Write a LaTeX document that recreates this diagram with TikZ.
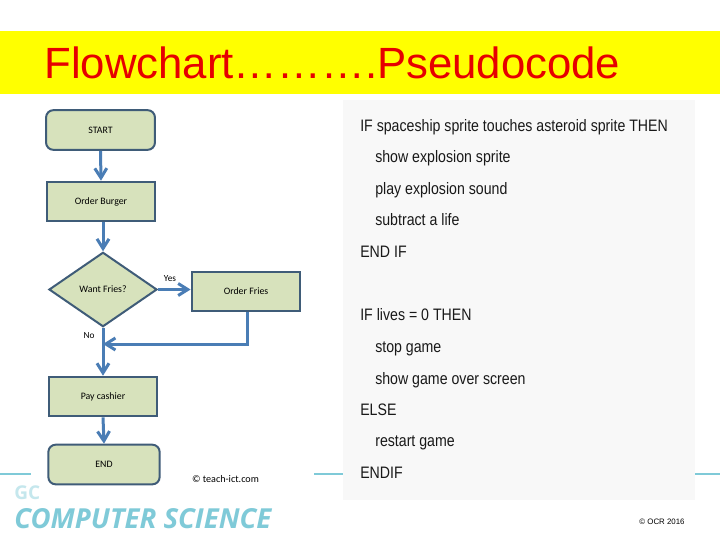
\documentclass[tikz,border=0pt]{standalone}
\usepackage{fontspec}
\setmainfont{Liberation Sans}
\newfontfamily\chartfont{Carlito}
\newfontfamily\logofont{Open Sans}
\newfontfamily\codefont[FakeStretch=0.853]{Liberation Sans}
\usetikzlibrary{arrows.meta, shapes.geometric}
\definecolor{bandyellow}{HTML}{FFFF00}
\definecolor{boxfill}{HTML}{D7E2BC}
\definecolor{boxline}{HTML}{3F5C78}
\definecolor{flowline}{HTML}{4A7DB5}
\definecolor{panelgrey}{HTML}{F8F8F8}
\definecolor{brandteal}{HTML}{7FCAD8}
\tikzset{
  plainbox/.style={draw=boxline, line width=0.05cm, fill=boxfill, minimum width=2.72cm, minimum height=0.99cm, inner sep=0pt, font=\chartfont\fontsize{7}{8}\selectfont},
  roundbox/.style={plainbox, rounded corners=0.18cm},
  choicebox/.style={plainbox, diamond, aspect=1.44, minimum width=2.7cm, minimum height=1.86cm},
  flowarrow/.style={draw=flowline, line width=0.075cm, -{Straight Barb[length=0.24cm, width=0.3cm, line width=0.075cm]}},
  codeline/.style={anchor=base west, inner sep=0pt, text=black!90, font=\codefont\fontsize{11.8}{14}\selectfont},
  chartnote/.style={inner sep=0pt, font=\chartfont\fontsize{6.6}{8}\selectfont}
}
\begin{document}
\begin{tikzpicture}[x=0.025cm, y=-0.025cm]
\useasboundingbox (0,0) rectangle (720,540);
\fill[white] (0,0) rectangle (720,540);

% title band
\fill[bandyellow] (0,31) rectangle (720,94);
\node[anchor=base west, inner sep=0pt, text={rgb,255:red,230;green,0;blue,0}, font=\fontsize{31.1}{36}\selectfont] (title) at (44,78) {Flowchart……….Pseudocode};

% footer
\draw[brandteal, line width=0.03cm] (0,474)--(31,474);
\draw[brandteal, line width=0.03cm] (314,474)--(343,474);
\draw[brandteal, line width=0.03cm] (695,474)--(720,474);
\node[anchor=base west, inner sep=0pt, text=brandteal!45, font=\logofont\bfseries\fontsize{13.5}{15}\selectfont] (brandtop) at (14,499) {GC};
\node[anchor=base west, inner sep=0pt, text=brandteal, font=\logofont\bfseries\itshape\fontsize{19.6}{22}\selectfont] (brand) at (14,528) {COMPUTER SCIENCE};
\node[inner sep=0pt, font=\fontsize{5.6}{7}\selectfont] (ocr) at (662,522) {© OCR 2016};

% flowchart
\node[roundbox] (start) at (100.5,130) {START};
\node[plainbox] (burger) at (101,201.5) {Order Burger};
\node[choicebox] (fries) at (103,289.5) {Want Fries?};
\node[plainbox] (orderfries) at (246,291.5) {Order Fries};
\node[plainbox] (pay) at (103,396.5) {Pay cashier};
\node[roundbox, minimum width=2.78cm] (end) at (104,464.5) {END};
\coordinate (join) at (103,344);
\coordinate (bend) at (247,344);

\draw[flowarrow] (start.south)--(burger.north);
\draw[flowarrow] (burger.south -| fries.north)--(fries.north);
\draw[flowarrow] (fries.east)--(fries.east -| orderfries.west);
\draw[flowline, line width=0.075cm] (fries.south)--(join);
\draw[flowarrow] (join)--(pay.north);
\draw[flowarrow] (orderfries.south -| bend)--(bend)--(join);
\draw[flowarrow] (pay.south)--(end.north);

\node[chartnote] (yes) at (170,279) {Yes};
\node[chartnote] (no) at (89,336) {No};
\node[inner sep=0pt, font=\chartfont\fontsize{7.2}{9}\selectfont] (teach) at (225.5,479) {© teach-ict.com};

% pseudocode
\fill[panelgrey] (343,100) rectangle (695,500);
\node[codeline] (c1) at (360,131.7) {IF spaceship sprite touches asteroid sprite THEN};
\node[codeline] (c2) at (375,162.7) {show explosion sprite};
\node[codeline] (c3) at (375,194) {play explosion sound};
\node[codeline] (c4) at (375,225.7) {subtract a life};
\node[codeline] (c5) at (360,257.7) {END IF};
\node[codeline] (c6) at (360,320.7) {IF lives = 0 THEN};
\node[codeline] (c7) at (375,352.7) {stop game};
\node[codeline] (c8) at (375,384) {show game over screen};
\node[codeline] (c9) at (360,415) {ELSE};
\node[codeline] (c10) at (375,446.7) {restart game};
\node[codeline] (c11) at (360,478) {ENDIF};
\end{tikzpicture}
\end{document}
